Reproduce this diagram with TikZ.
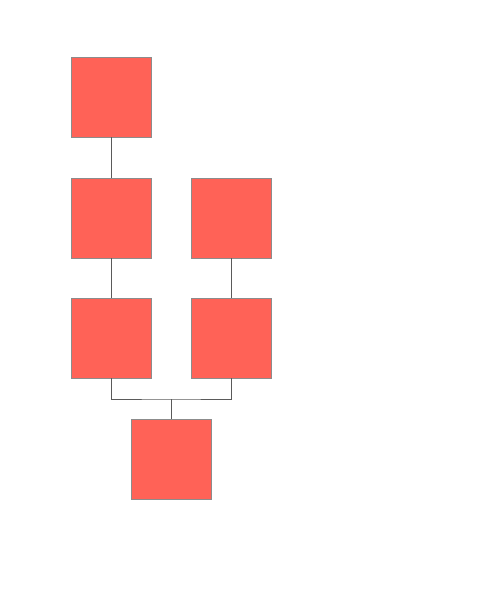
\documentclass[tikz,border=0pt]{standalone}
\usepackage{tikz}
\usepackage{xcolor}

\definecolor{boxred}{HTML}{FF6257}
\definecolor{boxedge}{HTML}{8C8C8C}
\definecolor{wire}{HTML}{5A5A5A}

\begin{document}
\begin{tikzpicture}[x=1pt,y=-1pt,
    block/.style={draw=boxedge, fill=boxred, line width=0.8pt, minimum size=80pt, inner sep=0pt},
    wirestyle/.style={draw=wire, line width=0.8pt}]
    \useasboundingbox (0,0) rectangle (502,601);

    \node[block] (top) at (111, 97) {};
    \node[block] (midl) at (111, 218) {};
    \node[block] (midr) at (231, 218) {};
    \node[block] (lowl) at (111, 338) {};
    \node[block] (lowr) at (231, 338) {};
    \node[block] (bottom) at (171, 459) {};

    \coordinate (join) at (171, 399);

    \draw[wirestyle] (top) -- (midl);
    \draw[wirestyle] (midl) -- (lowl);
    \draw[wirestyle] (midr) -- (lowr);

    \draw[wirestyle] (lowl.south) |- (join) -| (lowr.south);
    \draw[wirestyle] (join) -- (bottom.north);
\end{tikzpicture}
\end{document}
